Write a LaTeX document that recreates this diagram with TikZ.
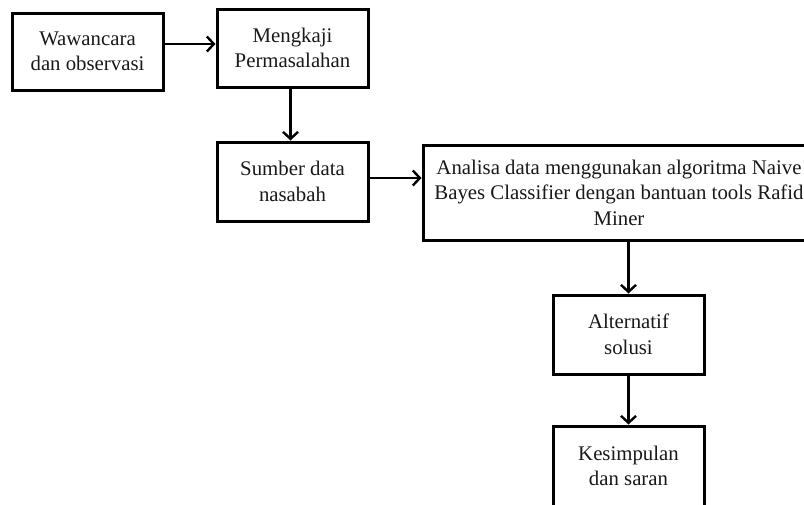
\documentclass[tikz,border=0pt]{standalone}
\usepackage{fontspec}
\setmainfont{Liberation Serif}
\usetikzlibrary{arrows.meta}
\begin{document}
\begin{tikzpicture}[x=1pt,y=-1pt,
  box/.style={draw=black, line width=3pt, fill=white, inner sep=0pt, align=center,
    text=black!90, font=\fontsize{20.8}{25.5}\selectfont},
  arr/.style={draw=black, line width=2.6pt, -{Straight Barb[length=7pt,width=15pt,line width=2.4pt]}}]
\useasboundingbox (0,0) rectangle (804,504);
\clip (0,0) rectangle (804,504);
\fill[white] (0,0) rectangle (804,504);
\node[box, minimum width=151pt, minimum height=77pt] (b1) at (87.5,51.5) {Wawancara\\dan observasi};
\node[box, minimum width=151pt, minimum height=78pt] (b2) at (292.5,48) {Mengkaji\\Permasalahan};
\node[box, minimum width=151pt, minimum height=79pt] (b3) at (292.5,181.5) {Sumber data\\nasabah};
\node[box, minimum width=392pt, minimum height=95pt] (b4) at (619,192.5) {Analisa data menggunakan algoritma Naive\\Bayes Classifier dengan bantuan tools Rafid\\Miner};
\node[box, minimum width=151pt, minimum height=79pt] (b5) at (628.5,334.5) {Alternatif\\solusi};
\node[box, minimum width=151pt, minimum height=80pt] (b6) at (628.5,466) {Kesimpulan\\dan saran};
\draw[arr] ([yshift=7.5pt]b1.east) -- ([yshift=7.5pt]b1.east -| b2.west);
\draw[arr] ([xshift=-2pt]b2.south) -- ([xshift=-2pt]b3.north);
\draw[arr] ([yshift=3.5pt]b3.east) -- ([yshift=3.5pt]b3.east -| b4.west);
\draw[arr] (b5.north |- b4.south) -- (b5.north);
\draw[arr] (b5.south) -- (b6.north);
\end{tikzpicture}
\end{document}
